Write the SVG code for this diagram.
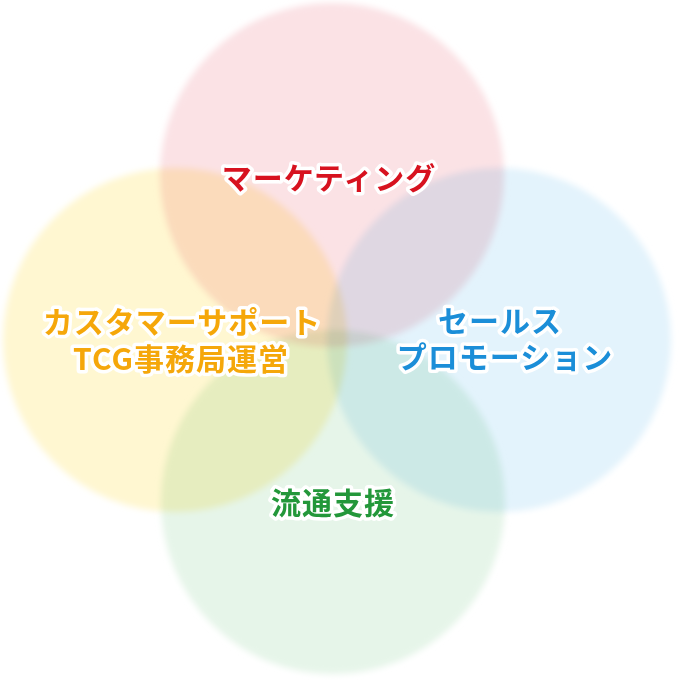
<svg xmlns="http://www.w3.org/2000/svg" width="680" height="680" viewBox="0 0 680 680">
  <style>
    .bubble { mix-blend-mode: multiply; filter: url(#soft); }
    .label { font-family: "Noto Sans CJK JP", "Noto Sans", sans-serif; font-weight: 700; font-size: 30px; letter-spacing: 1px; text-anchor: middle; stroke: #ffffff; stroke-width: 7; stroke-linejoin: round; paint-order: stroke fill; }
  </style>
  <defs>
    <filter id="soft" x="-10%" y="-10%" width="120%" height="120%">
      <feGaussianBlur stdDeviation="3"/>
    </filter>
  </defs>
  <rect width="680" height="680" fill="#ffffff"/>
  <g id="circles">
    <g id="node-marketing-circle"><circle class="bubble" cx="332" cy="175" r="172" fill="#fbe2e5"/></g>
    <g id="node-support-circle"><circle class="bubble" cx="175" cy="340" r="172" fill="#fff7d1"/></g>
    <g id="node-sales-circle"><circle class="bubble" cx="499" cy="340" r="172" fill="#e3f3fc"/></g>
    <g id="node-distribution-circle"><circle class="bubble" cx="333" cy="502" r="172" fill="#e6f5e9"/></g>
  </g>
  <g id="connectors"></g>
  <g id="node-marketing"><text class="label" x="329" y="189" fill="#d7121f">マーケティング</text></g>
  <g id="node-support">
    <text class="label" x="182" y="333" fill="#f5a70a">カスタマーサポート</text>
    <text class="label" x="181" y="370" fill="#f5a70a">TCG事務局運営</text>
  </g>
  <g id="node-sales">
    <text class="label" x="500" y="332" fill="#1b8ed8">セールス</text>
    <text class="label" x="505" y="368" fill="#1b8ed8">プロモーション</text>
  </g>
  <g id="node-distribution"><text class="label" x="333" y="514" fill="#23973a">流通支援</text></g>
</svg>
